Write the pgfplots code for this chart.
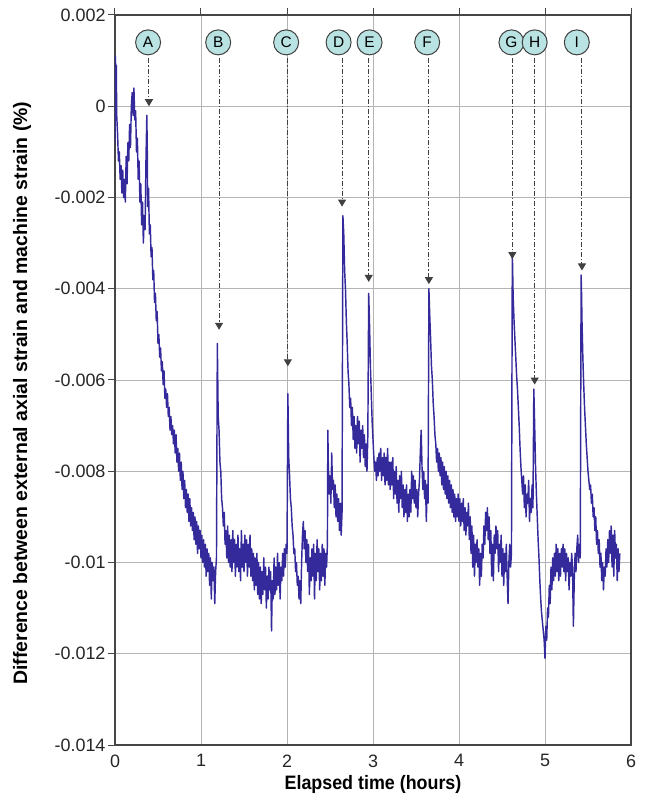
\documentclass[border=0pt]{standalone}
\usepackage{fontspec}
\setmainfont{Liberation Sans}
\usepackage{pgfplots}
\pgfplotsset{compat=1.18}
\usetikzlibrary{arrows.meta}

\definecolor{strain}{RGB}{52,42,155}
\definecolor{gridgray}{RGB}{180,180,180}
\definecolor{axisgray}{RGB}{70,70,70}
\definecolor{bubble}{RGB}{185,226,226}

\tikzset{
  evt/.style={circle, draw=black!75, line width=1bp, fill=bubble, minimum size=25bp,
              inner sep=0pt, font=\fontsize{15.5}{15.5}\selectfont},
  evtarrow/.style={black!75, line width=1bp, dash pattern=on 5bp off 2bp on 1.2bp off 2bp,
                   -{Triangle[width=8bp,length=7bp]}}
}

\begin{document}
\begin{tikzpicture}[x=1bp,y=1bp]
\begin{axis}[
    name=ax,
    at={(0,0)}, anchor=south west,
    scale only axis,
    width=516bp, height=730bp,
    xmin=0, xmax=6, ymin=-0.014, ymax=0.002,
    scaled y ticks=false,
    xtick={0,1,2,3,4,5,6},
    ytick={-0.014,-0.012,-0.01,-0.008,-0.006,-0.004,-0.002,0,0.002},
    yticklabels={-0.014,-0.012,-0.01,-0.008,-0.006,-0.004,-0.002,0,0.002},
    xticklabels={0,1,2,3,4,5,6},
    xtick pos=upper, xticklabel pos=lower,
    ytick pos=left,
    tick align=outside,
    major tick length=7bp,
    tick style={axisgray, line width=1bp},
    axis line style={axisgray, line width=1.2bp},
    grid=major,
    grid style={gridgray, line width=0.9bp},
    ticklabel style={font=\fontsize{18}{20}\selectfont, text=black!85},
    yticklabel style={xshift=1bp},
    xticklabel style={yshift=1bp},
    every axis y label/.style={at={(axis description cs:-0.180,0.482)}, rotate=90, anchor=center},
    every axis x label/.style={at={(axis description cs:0.5,-0.0545)}, anchor=center},
    label style={font=\bfseries\fontsize{19.5}{21}\selectfont},
    xlabel={\scalebox{0.92}[1]{Elapsed time (hours)}},
    ylabel={Difference between external axial strain and machine strain (\%)},
    clip=true,
]
\addplot[strain, line width=1.45bp, line join=round] coordinates {
(0.000,-0.0008) (0.005,0.0011) (0.010,0.0004) (0.015,0.0009) (0.020,-0.0002)
(0.030,-0.0006) (0.040,-0.0012) (0.050,-0.0010) (0.060,-0.0016) (0.070,-0.0013)
(0.080,-0.0019) (0.090,-0.0014) (0.100,-0.0020) (0.110,-0.0016) (0.120,-0.0021)
(0.130,-0.0011) (0.140,-0.0017) (0.150,-0.0008) (0.160,-0.0012) (0.170,-0.0004)
(0.180,-0.0009) (0.190,0.0000) (0.200,0.0003) (0.210,-0.0002) (0.220,0.0004)
(0.230,-0.0003) (0.240,-0.0001) (0.250,-0.0010) (0.260,-0.0007) (0.270,-0.0016)
(0.280,-0.0012) (0.290,-0.0021) (0.300,-0.0017) (0.310,-0.0026) (0.320,-0.0021)
(0.330,-0.0030) (0.340,-0.0024) (0.350,-0.0027) (0.360,-0.0012) (0.370,-0.0002)
(0.375,-0.0009) (0.380,-0.0022) (0.390,-0.0018) (0.400,-0.0028) (0.410,-0.0026)
(0.420,-0.0033) (0.430,-0.0031) (0.440,-0.0038) (0.450,-0.0036) (0.460,-0.0043)
(0.470,-0.0041) (0.480,-0.0047) (0.490,-0.0045) (0.500,-0.0052) (0.510,-0.0050)
(0.520,-0.0055) (0.530,-0.0053) (0.540,-0.0058) (0.550,-0.0056) (0.560,-0.0061)
(0.570,-0.0058) (0.580,-0.0064) (0.590,-0.0062) (0.600,-0.0066) (0.610,-0.0063)
(0.620,-0.0068) (0.630,-0.0066) (0.640,-0.0071) (0.650,-0.0068) (0.660,-0.0072)
(0.670,-0.0070) (0.680,-0.0074) (0.690,-0.0071) (0.700,-0.0076) (0.710,-0.0072)
(0.720,-0.0078) (0.730,-0.0075) (0.740,-0.0080) (0.750,-0.0076) (0.760,-0.0082)
(0.770,-0.0078) (0.780,-0.0084) (0.790,-0.0080) (0.800,-0.0086) (0.810,-0.0082)
(0.820,-0.0088) (0.830,-0.0084) (0.840,-0.0089) (0.850,-0.0085) (0.860,-0.0091)
(0.870,-0.0086) (0.880,-0.0092) (0.890,-0.0088) (0.900,-0.0093) (0.910,-0.0089)
(0.920,-0.0095) (0.930,-0.0090) (0.940,-0.0096) (0.950,-0.0091) (0.960,-0.0098)
(0.970,-0.0092) (0.980,-0.0097) (0.990,-0.0093) (1.000,-0.0099) (1.010,-0.0094)
(1.020,-0.0100) (1.030,-0.0095) (1.040,-0.0101) (1.050,-0.0096) (1.060,-0.0103)
(1.070,-0.0097) (1.080,-0.0102) (1.090,-0.0098) (1.100,-0.0105) (1.110,-0.0099)
(1.120,-0.0108) (1.130,-0.0100) (1.140,-0.0104) (1.150,-0.0101) (1.160,-0.0109)
(1.170,-0.0102) (1.180,-0.0099) (1.190,-0.0052) (1.195,-0.0060) (1.200,-0.0068)
(1.210,-0.0071) (1.220,-0.0078) (1.230,-0.0080) (1.240,-0.0086) (1.250,-0.0088)
(1.260,-0.0092) (1.270,-0.0089) (1.280,-0.0096) (1.290,-0.0093) (1.300,-0.0099)
(1.310,-0.0092) (1.320,-0.0100) (1.330,-0.0094) (1.340,-0.0101) (1.350,-0.0095)
(1.360,-0.0102) (1.370,-0.0093) (1.380,-0.0100) (1.390,-0.0095) (1.400,-0.0103)
(1.410,-0.0096) (1.420,-0.0101) (1.430,-0.0094) (1.440,-0.0102) (1.450,-0.0097)
(1.460,-0.0104) (1.470,-0.0093) (1.480,-0.0101) (1.490,-0.0096) (1.500,-0.0102)
(1.510,-0.0094) (1.520,-0.0100) (1.530,-0.0095) (1.540,-0.0103) (1.550,-0.0096)
(1.560,-0.0101) (1.570,-0.0094) (1.580,-0.0103) (1.590,-0.0097) (1.600,-0.0104)
(1.610,-0.0098) (1.620,-0.0106) (1.630,-0.0099) (1.640,-0.0105) (1.650,-0.0098)
(1.660,-0.0107) (1.670,-0.0100) (1.680,-0.0108) (1.690,-0.0101) (1.700,-0.0109)
(1.710,-0.0102) (1.720,-0.0107) (1.730,-0.0099) (1.740,-0.0106) (1.750,-0.0101)
(1.760,-0.0110) (1.770,-0.0103) (1.780,-0.0108) (1.790,-0.0101) (1.800,-0.0106)
(1.810,-0.0102) (1.820,-0.0115) (1.830,-0.0104) (1.840,-0.0108) (1.850,-0.0099)
(1.860,-0.0107) (1.870,-0.0101) (1.880,-0.0106) (1.890,-0.0098) (1.900,-0.0105)
(1.910,-0.0100) (1.920,-0.0108) (1.930,-0.0101) (1.940,-0.0104) (1.950,-0.0098)
(1.960,-0.0103) (1.970,-0.0097) (1.980,-0.0101) (1.990,-0.0096) (2.000,-0.0098)
(2.010,-0.0063) (2.015,-0.0070) (2.020,-0.0077) (2.030,-0.0081) (2.040,-0.0086)
(2.050,-0.0088) (2.060,-0.0092) (2.070,-0.0094) (2.080,-0.0098) (2.090,-0.0097)
(2.100,-0.0102) (2.110,-0.0100) (2.120,-0.0105) (2.130,-0.0103) (2.140,-0.0108)
(2.150,-0.0104) (2.160,-0.0109) (2.170,-0.0100) (2.180,-0.0094) (2.190,-0.0091)
(2.200,-0.0097) (2.210,-0.0093) (2.220,-0.0100) (2.230,-0.0095) (2.240,-0.0102)
(2.250,-0.0096) (2.260,-0.0107) (2.270,-0.0099) (2.280,-0.0104) (2.290,-0.0097)
(2.300,-0.0103) (2.310,-0.0096) (2.320,-0.0108) (2.330,-0.0098) (2.340,-0.0104)
(2.350,-0.0095) (2.360,-0.0102) (2.370,-0.0097) (2.380,-0.0106) (2.390,-0.0098)
(2.400,-0.0104) (2.410,-0.0096) (2.420,-0.0103) (2.430,-0.0097) (2.440,-0.0105)
(2.450,-0.0098) (2.460,-0.0101) (2.470,-0.0096) (2.475,-0.0071) (2.480,-0.0078)
(2.490,-0.0085) (2.500,-0.0081) (2.510,-0.0087) (2.520,-0.0076) (2.530,-0.0084)
(2.540,-0.0082) (2.550,-0.0088) (2.560,-0.0083) (2.570,-0.0090) (2.580,-0.0085)
(2.590,-0.0091) (2.600,-0.0086) (2.610,-0.0093) (2.620,-0.0087) (2.630,-0.0094)
(2.640,-0.0089) (2.650,-0.0024) (2.660,-0.0028) (2.670,-0.0036) (2.680,-0.0040)
(2.690,-0.0047) (2.700,-0.0052) (2.710,-0.0058) (2.720,-0.0061) (2.730,-0.0066)
(2.740,-0.0064) (2.750,-0.0070) (2.760,-0.0066) (2.770,-0.0073) (2.780,-0.0068)
(2.790,-0.0075) (2.800,-0.0070) (2.810,-0.0076) (2.820,-0.0068) (2.830,-0.0074)
(2.840,-0.0069) (2.850,-0.0078) (2.860,-0.0071) (2.870,-0.0075) (2.880,-0.0070)
(2.890,-0.0077) (2.900,-0.0072) (2.910,-0.0079) (2.920,-0.0074) (2.930,-0.0080)
(2.940,-0.0072) (2.950,-0.0041) (2.960,-0.0048) (2.970,-0.0057) (2.980,-0.0063)
(2.990,-0.0069) (3.000,-0.0073) (3.010,-0.0077) (3.020,-0.0080) (3.030,-0.0078)
(3.040,-0.0082) (3.050,-0.0077) (3.060,-0.0081) (3.070,-0.0076) (3.080,-0.0080)
(3.090,-0.0075) (3.100,-0.0082) (3.110,-0.0077) (3.120,-0.0081) (3.130,-0.0076)
(3.140,-0.0083) (3.150,-0.0077) (3.160,-0.0082) (3.170,-0.0075) (3.180,-0.0083)
(3.190,-0.0078) (3.200,-0.0084) (3.210,-0.0078) (3.220,-0.0083) (3.230,-0.0077)
(3.240,-0.0086) (3.250,-0.0080) (3.260,-0.0085) (3.270,-0.0079) (3.280,-0.0087)
(3.290,-0.0082) (3.300,-0.0089) (3.310,-0.0081) (3.320,-0.0086) (3.330,-0.0080)
(3.340,-0.0088) (3.350,-0.0083) (3.360,-0.0090) (3.370,-0.0084) (3.380,-0.0089)
(3.390,-0.0083) (3.400,-0.0091) (3.410,-0.0085) (3.420,-0.0090) (3.430,-0.0084)
(3.440,-0.0089) (3.450,-0.0080) (3.460,-0.0086) (3.470,-0.0081) (3.480,-0.0087)
(3.490,-0.0082) (3.500,-0.0088) (3.510,-0.0084) (3.520,-0.0090) (3.530,-0.0085)
(3.540,-0.0082) (3.550,-0.0076) (3.560,-0.0071) (3.570,-0.0079) (3.580,-0.0084)
(3.590,-0.0080) (3.600,-0.0086) (3.610,-0.0082) (3.620,-0.0091) (3.630,-0.0083)
(3.640,-0.0087) (3.650,-0.0040) (3.660,-0.0046) (3.670,-0.0051) (3.680,-0.0057)
(3.690,-0.0060) (3.700,-0.0065) (3.710,-0.0068) (3.720,-0.0072) (3.730,-0.0074)
(3.740,-0.0078) (3.750,-0.0075) (3.760,-0.0080) (3.770,-0.0076) (3.780,-0.0081)
(3.790,-0.0077) (3.800,-0.0083) (3.810,-0.0078) (3.820,-0.0084) (3.830,-0.0079)
(3.840,-0.0085) (3.850,-0.0080) (3.860,-0.0086) (3.870,-0.0081) (3.880,-0.0087)
(3.890,-0.0082) (3.900,-0.0088) (3.910,-0.0083) (3.920,-0.0089) (3.930,-0.0084)
(3.940,-0.0090) (3.950,-0.0085) (3.960,-0.0091) (3.970,-0.0086) (3.980,-0.0090)
(3.990,-0.0085) (4.000,-0.0091) (4.010,-0.0086) (4.020,-0.0092) (4.030,-0.0087)
(4.040,-0.0091) (4.050,-0.0086) (4.060,-0.0093) (4.070,-0.0088) (4.080,-0.0094)
(4.090,-0.0089) (4.100,-0.0092) (4.110,-0.0087) (4.120,-0.0095) (4.130,-0.0090)
(4.140,-0.0098) (4.150,-0.0092) (4.160,-0.0101) (4.170,-0.0094) (4.180,-0.0103)
(4.190,-0.0096) (4.200,-0.0100) (4.210,-0.0095) (4.220,-0.0101) (4.230,-0.0097)
(4.240,-0.0105) (4.250,-0.0098) (4.260,-0.0103) (4.270,-0.0096) (4.280,-0.0099)
(4.290,-0.0092) (4.300,-0.0096) (4.310,-0.0089) (4.320,-0.0093) (4.330,-0.0088)
(4.340,-0.0095) (4.350,-0.0090) (4.360,-0.0098) (4.370,-0.0093) (4.380,-0.0103)
(4.390,-0.0096) (4.400,-0.0104) (4.410,-0.0094) (4.420,-0.0098) (4.430,-0.0092)
(4.440,-0.0097) (4.450,-0.0093) (4.460,-0.0102) (4.470,-0.0096) (4.480,-0.0100)
(4.490,-0.0094) (4.500,-0.0103) (4.510,-0.0097) (4.520,-0.0105) (4.530,-0.0098)
(4.540,-0.0102) (4.550,-0.0096) (4.560,-0.0103) (4.570,-0.0109) (4.580,-0.0100)
(4.590,-0.0096) (4.600,-0.0101) (4.610,-0.0098) (4.620,-0.0032) (4.625,-0.0037)
(4.630,-0.0042) (4.640,-0.0047) (4.650,-0.0051) (4.660,-0.0055) (4.670,-0.0059)
(4.680,-0.0062) (4.690,-0.0066) (4.700,-0.0070) (4.710,-0.0075) (4.720,-0.0079)
(4.730,-0.0082) (4.740,-0.0085) (4.750,-0.0081) (4.760,-0.0088) (4.770,-0.0083)
(4.780,-0.0090) (4.790,-0.0085) (4.800,-0.0087) (4.810,-0.0082) (4.820,-0.0091)
(4.830,-0.0086) (4.840,-0.0089) (4.850,-0.0083) (4.860,-0.0088) (4.870,-0.0062)
(4.880,-0.0070) (4.890,-0.0079) (4.900,-0.0085) (4.910,-0.0090) (4.920,-0.0095)
(4.930,-0.0099) (4.940,-0.0104) (4.950,-0.0108) (4.960,-0.0111) (4.970,-0.0113)
(4.980,-0.0115) (4.990,-0.0117) (5.000,-0.0121) (5.010,-0.0114) (5.020,-0.0117)
(5.030,-0.0110) (5.040,-0.0112) (5.050,-0.0105) (5.060,-0.0109) (5.070,-0.0101)
(5.080,-0.0106) (5.090,-0.0099) (5.100,-0.0104) (5.110,-0.0098) (5.120,-0.0103)
(5.130,-0.0096) (5.140,-0.0102) (5.150,-0.0097) (5.160,-0.0104) (5.170,-0.0098)
(5.180,-0.0103) (5.190,-0.0097) (5.200,-0.0101) (5.210,-0.0096) (5.220,-0.0102)
(5.230,-0.0097) (5.240,-0.0104) (5.250,-0.0098) (5.260,-0.0102) (5.270,-0.0099)
(5.280,-0.0106) (5.290,-0.0100) (5.300,-0.0103) (5.310,-0.0098) (5.320,-0.0101)
(5.330,-0.0114) (5.340,-0.0104) (5.350,-0.0098) (5.360,-0.0102) (5.370,-0.0097)
(5.380,-0.0094) (5.390,-0.0100) (5.400,-0.0096) (5.410,-0.0099) (5.420,-0.0037)
(5.425,-0.0041) (5.430,-0.0047) (5.440,-0.0055) (5.450,-0.0061) (5.460,-0.0066)
(5.470,-0.0070) (5.480,-0.0074) (5.490,-0.0077) (5.500,-0.0080) (5.510,-0.0082)
(5.520,-0.0084) (5.530,-0.0083) (5.540,-0.0087) (5.550,-0.0085) (5.560,-0.0090)
(5.570,-0.0088) (5.580,-0.0093) (5.590,-0.0090) (5.600,-0.0096) (5.610,-0.0093)
(5.620,-0.0098) (5.630,-0.0095) (5.640,-0.0101) (5.650,-0.0098) (5.660,-0.0104)
(5.670,-0.0100) (5.680,-0.0106) (5.690,-0.0101) (5.700,-0.0103) (5.710,-0.0097)
(5.720,-0.0101) (5.730,-0.0095) (5.740,-0.0100) (5.750,-0.0093) (5.760,-0.0098)
(5.770,-0.0092) (5.780,-0.0101) (5.790,-0.0094) (5.800,-0.0103) (5.810,-0.0093)
(5.820,-0.0099) (5.830,-0.0096) (5.840,-0.0104) (5.850,-0.0097) (5.860,-0.0102)
(5.870,-0.0098)
};
% event markers
\node[evt] (A) at (axis cs:0.385,0.00140) {A};
\node[evt] (B) at (axis cs:1.200,0.00140) {B};
\node[evt] (C) at (axis cs:1.990,0.00140) {C};
\node[evt] (D) at (axis cs:2.600,0.00140) {D};
\node[evt] (E) at (axis cs:2.960,0.00140) {E};
\node[evt] (F) at (axis cs:3.630,0.00140) {F};
\node[evt] (G) at (axis cs:4.610,0.00140) {G};
\node[evt] (H) at (axis cs:4.880,0.00140) {H};
\node[evt] (I) at (axis cs:5.370,0.00140) {I};
\draw[evtarrow] (axis cs:0.395,0.00105) -- (axis cs:0.395,0.00000);
\draw[evtarrow] (axis cs:1.210,0.00105) -- (axis cs:1.210,-0.00490);
\draw[evtarrow] (axis cs:2.010,0.00105) -- (axis cs:2.010,-0.00570);
\draw[evtarrow] (axis cs:2.640,0.00105) -- (axis cs:2.640,-0.00220);
\draw[evtarrow] (axis cs:2.950,0.00105) -- (axis cs:2.950,-0.00385);
\draw[evtarrow] (axis cs:3.650,0.00105) -- (axis cs:3.650,-0.00390);
\draw[evtarrow] (axis cs:4.620,0.00105) -- (axis cs:4.620,-0.00335);
\draw[evtarrow] (axis cs:4.880,0.00105) -- (axis cs:4.880,-0.00610);
\draw[evtarrow] (axis cs:5.430,0.00105) -- (axis cs:5.430,-0.00360);
\end{axis}
\path ([xshift=-115bp,yshift=-53bp]ax.south west) rectangle ([xshift=15bp,yshift=15bp]ax.north east);
\end{tikzpicture}
\end{document}
